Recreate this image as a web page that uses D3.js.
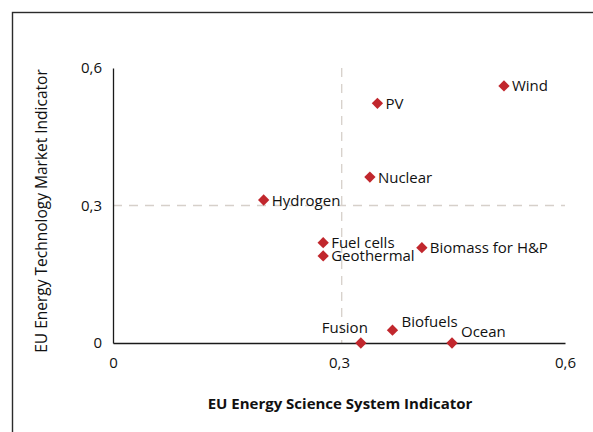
<!DOCTYPE html>
<html>
<head>
<meta charset="utf-8">
<script src="https://cdn.jsdelivr.net/npm/d3@7"></script>
<style>
  html, body { margin: 0; padding: 0; background: #fff; }
  svg { display: block; }
  text { font-family: "Open Sans", "Noto Sans", sans-serif; fill: #111; }
</style>
</head>
<body>
<svg id="chart" width="593" height="432"></svg>
<script>
// Technologies plotted by science-system score (x) and market score (y)
const technologies = ["Wind", "PV", "Nuclear", "Hydrogen", "Fuel cells", "Geothermal",
                      "Biomass for H&P", "Fusion", "Biofuels", "Ocean"];
const scienceIndicator = [0.519, 0.351, 0.341, 0.200, 0.279, 0.279, 0.410, 0.329, 0.371, 0.450];
const marketIndicator  = [0.561, 0.523, 0.362, 0.312, 0.219, 0.190, 0.208, 0.000, 0.028, 0.000];
const xTicks = [0, 0.3, 0.6];
const yTicks = [0, 0.3, 0.6];
const quadrantX = 0.3036;
const quadrantY = 0.3;

const svg = d3.select("#chart");
const margin = { left: 113, right: 28, top: 68, bottom: 89 };
const W = 593, H = 432;

// outer frame (runs off the right and bottom edges)
svg.append("rect")
  .attr("x", 12.5).attr("y", 12.5)
  .attr("width", 600).attr("height", 440)
  .attr("fill", "none").attr("stroke", "#2b2b2b").attr("stroke-width", 1.4);

const x = d3.scaleLinear().domain([0, 0.6]).range([margin.left, W - margin.right]);
const y = d3.scaleLinear().domain([0, 0.6]).range([H - margin.bottom, margin.top]);

const locale = d3.formatLocale({ decimal: ",", thousands: ".", grouping: [3], currency: ["", "€"] });
const fmt = v => v === 0 ? "0" : locale.format(".1f")(v);

// quadrant guide lines
const g = svg.append("g");
g.append("line")
  .attr("x1", x(0)).attr("x2", x(0.6))
  .attr("y1", y(quadrantY)).attr("y2", y(quadrantY))
  .attr("stroke", "#d6d0ca").attr("stroke-width", 1.3).attr("stroke-dasharray", "9,7");
g.append("line")
  .attr("x1", x(quadrantX)).attr("x2", x(quadrantX))
  .attr("y1", y(0.6)).attr("y2", y(0))
  .attr("stroke", "#d6d0ca").attr("stroke-width", 1.3).attr("stroke-dasharray", "9,7");

// axes
const xAxis = svg.append("g")
  .attr("transform", `translate(0,${y(0)})`)
  .call(d3.axisBottom(x).tickValues(xTicks).tickFormat(fmt).tickSize(0).tickPadding(14));
const yAxis = svg.append("g")
  .attr("transform", `translate(${x(0)},0)`)
  .call(d3.axisLeft(y).tickValues(yTicks).tickFormat(fmt).tickSize(0).tickPadding(11));
[xAxis, yAxis].forEach(a => {
  a.select(".domain").attr("stroke", "#1a1a1a").attr("stroke-width", 1.3);
  a.selectAll("text").attr("font-size", 15).attr("font-family", "Open Sans, sans-serif").attr("fill", "#111");
});

// axis titles
svg.append("text")
  .attr("x", 340).attr("y", 409)
  .attr("text-anchor", "middle")
  .attr("font-size", 15).attr("font-weight", "bold")
  .text("EU Energy Science System Indicator");
svg.append("text")
  .attr("transform", `translate(47,211) rotate(-90)`)
  .attr("text-anchor", "middle")
  .attr("font-size", 15.5)
  .text("EU Energy Technology Market Indicator");

const points = technologies.map((name, i) => ({ name, sx: scienceIndicator[i], my: marketIndicator[i] }));

// label placement around each marker
function labelPos(name) {
  if (name === "Fusion") return { dx: 7, dy: -10, anchor: "end" };
  if (name === "Biofuels") return { dx: 9, dy: -3, anchor: "start" };
  if (name === "Ocean") return { dx: 9, dy: -6, anchor: "start" };
  return { dx: 8, dy: 5.5, anchor: "start" };
}

const pts = svg.append("g").selectAll("g").data(points).join("g")
  .attr("transform", d => `translate(${x(d.sx)},${y(d.my)})`);
pts.append("rect")
  .attr("x", -4).attr("y", -4).attr("width", 8).attr("height", 8)
  .attr("transform", "rotate(45)")
  .attr("fill", "#c1272d");
pts.append("text")
  .attr("x", d => labelPos(d.name).dx)
  .attr("y", d => labelPos(d.name).dy)
  .attr("text-anchor", d => labelPos(d.name).anchor)
  .attr("font-size", 15)
  .text(d => d.name);
</script>
</body>
</html>
